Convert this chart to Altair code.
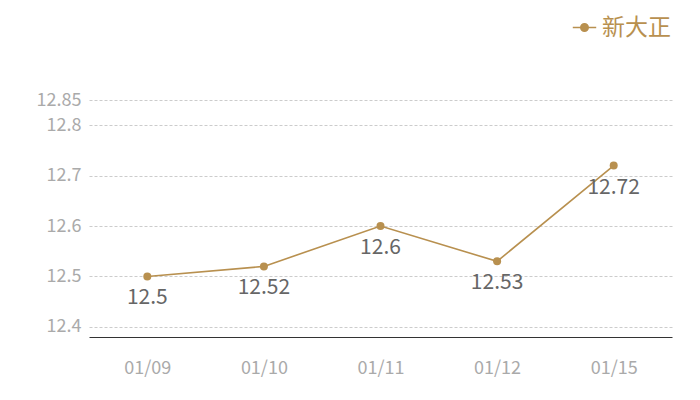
import altair as alt
import pandas as pd

dates = ["01/09", "01/10", "01/11", "01/12", "01/15"]
values = [12.5, 12.52, 12.6, 12.53, 12.72]
series = "新大正"
y_ticks = [12.4, 12.5, 12.6, 12.7, 12.8, 12.85]

df = pd.DataFrame({"date": dates, "value": values, "series": [series] * len(dates)})

FONT = "Noto Sans CJK SC"
GOLD = "#b8904f"

x = alt.X("date:N", sort=dates, title=None,
          scale=alt.Scale(paddingInner=0, paddingOuter=0.5),
          axis=alt.Axis(labelAngle=0, labelColor="#aaaaaa", labelFontSize=18, labelFont=FONT,
                        ticks=False, domainColor="#333333", domainWidth=1, grid=False,
                        labelPadding=22))
y = alt.Y("value:Q", title=None,
          scale=alt.Scale(domain=[12.38, 12.85], nice=False, zero=False),
          axis=alt.Axis(values=y_ticks, labelExpr="'' + datum.value", labelColor="#aaaaaa",
                        labelFontSize=18, labelFont=FONT, ticks=False, domain=False, grid=True,
                        gridColor="#cccccc", gridDash=[3, 2], gridWidth=1, labelPadding=8,
                        labelFlush=False))
color = alt.Color("series:N", scale=alt.Scale(domain=[series], range=[GOLD]),
                  legend=alt.Legend(title=None, orient="none", legendX=484, legendY=-84,
                                    labelFont=FONT, labelFontSize=23, labelColor=GOLD,
                                    labelLimit=300,
                                    symbolType="M-1.4,0 L-0.45,0 M0.45,0 L1.4,0 M-0.45,0 A0.45,0.45 0 1,1 0.45,0 A0.45,0.45 0 1,1 -0.45,0 Z",
                                    symbolSize=280, symbolStrokeWidth=1.5,
                                    symbolFillColor=GOLD, symbolStrokeColor=GOLD,
                                    labelOffset=6))

base = alt.Chart(df).encode(x=x, y=y)
line = base.mark_line(strokeWidth=1.6).encode(color=color)
pts = base.mark_circle(size=64, opacity=1, color=GOLD)
labels = base.mark_text(dy=22, fontSize=21, font=FONT, color="#666666").encode(text="value:N")

chart = (line + pts + labels).properties(
    width=583, height=237,
    autosize=alt.AutoSizeParams(type="none"),
    padding={"left": 81, "top": 92, "right": 20, "bottom": 50},
).configure_view(stroke=None)

chart.save("out.html", embed_options={"renderer": "svg", "actions": False})
